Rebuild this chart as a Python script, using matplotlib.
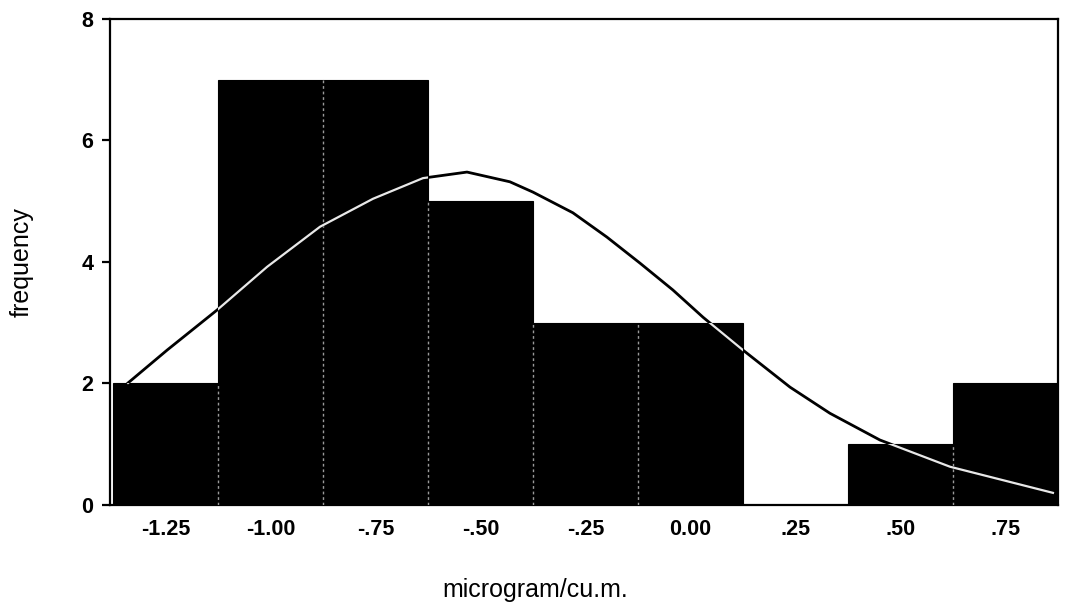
import matplotlib

matplotlib.use("Agg")

import matplotlib.pyplot as plt
from matplotlib.patches import PathPatch
from matplotlib.path import Path

# histogram bins (centres, width 0.25) and counts
bin_centers = [-1.25, -1.00, -0.75, -0.50, -0.25, 0.00, 0.25, 0.50, 0.75]
counts = [2, 7, 7, 5, 3, 3, 0, 1, 2]
bin_width = 0.25
tick_labels = ["-1.25", "-1.00", "-.75", "-.50", "-.25", "0.00", ".25", ".50", ".75"]

# normal curve, points
curve_x = [-1.339, -1.246, -1.127, -1.008, -0.882, -0.756, -0.637, -0.532, -0.430,
           -0.375, -0.280, -0.199, -0.120, -0.042, 0.030, 0.125, 0.237, 0.332,
           0.451, 0.618, 0.863]
curve_y = [2.01, 2.55, 3.21, 3.92, 4.58, 5.04, 5.38, 5.48, 5.32,
           5.15, 4.81, 4.41, 3.98, 3.54, 3.09, 2.55, 1.94, 1.51,
           1.07, 0.63, 0.20]

plt.rcParams["font.family"] = ["Liberation Sans", "DejaVu Sans"]

fig = plt.figure(figsize=(10.65, 6.04), dpi=100)
ax = fig.add_axes([0.1033, 0.1639, 0.8901, 0.8047])

bars = ax.bar(bin_centers, counts, width=bin_width, color="black",
              edgecolor="black", linewidth=0.8, zorder=2)

# faint light separators between neighbouring bars
for i in range(len(counts) - 1):
    h = min(counts[i], counts[i + 1])
    if h > 0:
        edge = bin_centers[i] + bin_width / 2
        ax.vlines(edge, 0, h, colors="#9a9a9a", linewidth=1.0,
                  linestyles=(0, (2, 2)), zorder=3)

# curve: black over the background, white where it crosses the bars
ax.plot(curve_x, curve_y, color="black", linewidth=2.0, zorder=4)
bar_paths = [b.get_path().transformed(b.get_patch_transform()) for b in bars]
clip = PathPatch(Path.make_compound_path(*bar_paths), transform=ax.transData,
                 facecolor="none", edgecolor="none")
ax.add_patch(clip)
(white_line,) = ax.plot(curve_x, curve_y, color="#e8e8e8", linewidth=1.6, zorder=5)
white_line.set_clip_path(clip)

ax.set_xlim(-1.382, 0.875)
ax.set_ylim(0, 8)
ax.set_xticks(bin_centers)
ax.set_xticklabels(tick_labels)
ax.set_yticks([0, 2, 4, 6, 8])
ax.tick_params(axis="x", length=0, pad=10, labelsize=15.5)
ax.tick_params(axis="y", length=6, width=1.6, pad=6, labelsize=15.5)
for lab in ax.get_xticklabels() + ax.get_yticklabels():
    lab.set_fontweight("bold")
for s in ax.spines.values():
    s.set_linewidth(1.6)

fig.text(22 / 1065, 0.5 * (1 - 19 / 604 + 1 - 505 / 604), "frequency",
         rotation=90, ha="center", va="center", fontsize=18)
fig.text(535 / 1065, 1 - 590 / 604, "microgram/cu.m.",
         ha="center", va="center", fontsize=18)

fig.savefig("out.png", dpi=100)
plt.close(fig)
